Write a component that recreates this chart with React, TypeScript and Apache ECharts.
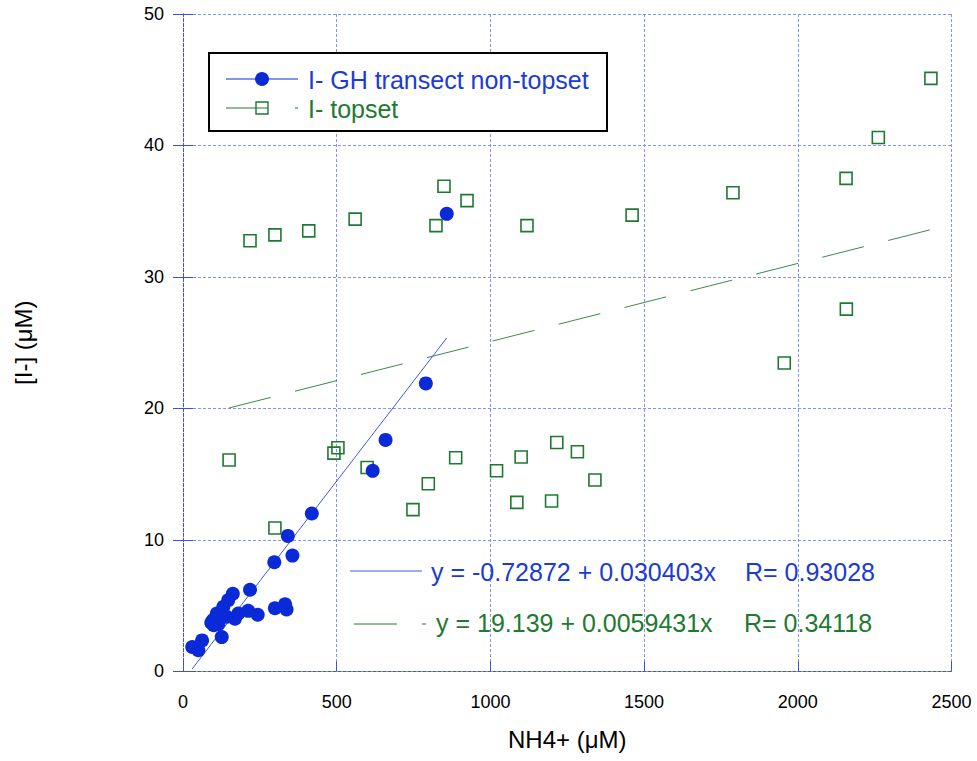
import React, { useEffect, useRef } from "react";
import * as echarts from "echarts";

const nonTopsetNH4 = [30, 50, 62, 126, 98, 115, 110, 131, 142, 147, 169, 180, 100, 92, 120, 162, 218, 212, 243, 299, 332, 337, 297, 356, 341, 419, 617, 659, 790, 858];
const nonTopsetI = [1.85, 1.6, 2.35, 2.6, 3.9, 3.6, 4.4, 4.9, 4.15, 5.4, 4.0, 4.4, 3.5, 3.7, 4.2, 5.9, 6.2, 4.6, 4.3, 4.8, 5.1, 4.7, 8.3, 8.8, 10.3, 12.0, 15.25, 17.6, 21.9, 34.8];

const topsetNH4 = [150, 218, 299, 409, 560, 849, 823, 924, 1119, 1461, 1789, 2157, 2262, 2433, 1956, 2158, 299, 491, 504, 599, 748, 798, 887, 1020, 1100, 1216, 1283, 1340, 1086, 1199];
const topsetI = [16.07, 32.75, 33.2, 33.5, 34.4, 36.9, 33.9, 35.8, 33.9, 34.7, 36.4, 37.5, 40.6, 45.1, 23.45, 27.55, 10.9, 16.6, 17.0, 15.5, 12.3, 14.27, 16.24, 15.25, 16.3, 17.4, 16.7, 14.55, 12.85, 12.95];

// fit coefficients [intercept, slope, R]
const nonTopsetFit = [-0.72872, 0.030403, 0.93028];
const topsetFit = [19.139, 0.0059431, 0.34118];

const xTicks = [0, 500, 1000, 1500, 2000, 2500];
const yTicks = [0, 10, 20, 30, 40, 50];

const seriesNames = ["I- GH transect non-topset", "I- topset"];

const BLUE = "#0a2ad8";
const BLUE_TEXT = "#1b3ad6";
const GREEN = "#1d7a30";
const GRID = "#8593ee";
const AXIS = "#3d52dc";
const FONT = "'Liberation Sans', Arial, Helvetica, sans-serif";

function fitLine(xs: number[], fit: number[]) {
  const lo = Math.min(...xs);
  const hi = Math.max(...xs);
  return [lo, hi].map((x) => [x, fit[0] + fit[1] * x]);
}

export default function App() {
  const ref = useRef<HTMLDivElement>(null);
  useEffect(() => {
    if (!ref.current) return;
    const chart = echarts.init(ref.current, null, { renderer: "svg" });
    const blueData = nonTopsetNH4.map((x, i) => [x, nonTopsetI[i]]);
    const greenData = topsetNH4.map((x, i) => [x, topsetI[i]]);
    const fmtEq = (f: number[]) => `y = ${f[0]} + ${f[1]}x`;
    const axisCommon = {
      type: "value" as const,
      axisLine: { show: true, lineStyle: { color: AXIS, type: [3, 2], width: 1 } },
      axisTick: { show: true, inside: true, length: 10, lineStyle: { color: AXIS, width: 1 } },
      splitLine: { show: true, lineStyle: { color: GRID, type: [3, 2], width: 1 } },
    };
    const txt = (text: string, x: number, y: number, fill: string) => ({
      type: "text",
      x,
      y,
      style: { text, fill, font: `25px ${FONT}`, verticalAlign: "middle" },
      z: 11,
    });
    const seg = (x1: number, y1: number, x2: number, y2: number, stroke: string, lineWidth = 1) => ({
      type: "line",
      shape: { x1, y1, x2, y2 },
      style: { stroke, lineWidth },
      z: 11,
    });
    chart.setOption({
      animation: false,
      backgroundColor: "#fff",
      textStyle: { fontFamily: FONT },
      grid: { left: 183, top: 14, right: 25.5, bottom: 89.7, containLabel: false },
      xAxis: [
        {
          ...axisCommon,
          min: xTicks[0],
          max: xTicks[xTicks.length - 1],
          interval: 500,
          name: "NH4+ (μM)",
          nameLocation: "middle",
          nameGap: 56,
          nameTextStyle: { fontSize: 24, color: "#000", fontFamily: FONT },
          axisLabel: { fontSize: 18, color: "#000", margin: 22, fontFamily: FONT, formatter: (v: number) => String(v) },
        },
        {
          ...axisCommon,
          position: "top",
          min: xTicks[0],
          max: xTicks[xTicks.length - 1],
          interval: 500,
          axisTick: { show: false },
          axisLabel: { show: false },
          splitLine: { show: false },
        },
      ],
      yAxis: [
        {
          ...axisCommon,
          min: yTicks[0],
          max: yTicks[yTicks.length - 1],
          interval: 10,
          name: "[I-] (μM)",
          nameLocation: "middle",
          nameGap: 148,
          nameTextStyle: { fontSize: 24, color: "#000", fontFamily: FONT },
          axisLabel: { fontSize: 18, color: "#000", margin: 19, fontFamily: FONT, formatter: (v: number) => String(v) },
        },
        {
          ...axisCommon,
          position: "right",
          min: yTicks[0],
          max: yTicks[yTicks.length - 1],
          interval: 10,
          axisTick: { show: true, inside: true, length: 10, lineStyle: { color: AXIS } },
          axisLabel: { show: false },
          splitLine: { show: false },
        },
      ],
      series: [
        {
          name: seriesNames[1],
          type: "scatter",
          data: greenData,
          symbol: "rect",
          symbolSize: 12,
          itemStyle: { color: "rgba(255,255,255,0)", borderColor: GREEN, borderWidth: 1.6, opacity: 1 },
          z: 3,
        },
        {
          name: seriesNames[1] + " fit",
          type: "line",
          data: fitLine(topsetNH4, topsetFit),
          symbol: "none",
          lineStyle: { color: "#3a8a4a", width: 1, type: [43, 25] },
          z: 2,
        },
        {
          name: seriesNames[0] + " fit",
          type: "line",
          data: fitLine(nonTopsetNH4, nonTopsetFit),
          symbol: "none",
          lineStyle: { color: "#4058e6", width: 1 },
          z: 4,
        },
        {
          name: seriesNames[0],
          type: "scatter",
          data: blueData,
          symbol: "circle",
          symbolSize: 14,
          itemStyle: { color: BLUE, opacity: 1 },
          z: 5,
        },
      ],
      graphic: [
        {
          type: "rect",
          shape: { x: 209, y: 53, width: 398, height: 78 },
          style: { fill: "#fff", stroke: "#000", lineWidth: 2 },
          z: 10,
        },
        seg(226, 79, 298, 79, BLUE, 1.2),
        { type: "circle", shape: { cx: 262, cy: 79, r: 7 }, style: { fill: BLUE }, z: 11 },
        txt(seriesNames[0], 308, 80, BLUE_TEXT),
        seg(226, 108, 268, 108, GREEN),
        {
          type: "rect",
          shape: { x: 256, y: 102, width: 12, height: 12 },
          style: { fill: "rgba(255,255,255,0)", stroke: GREEN, lineWidth: 1.4 },
          z: 11,
        },
        seg(295, 108, 298, 108, GREEN),
        txt(seriesNames[1], 308, 109, GREEN),
        seg(350, 571, 422, 571, "#4058e6"),
        txt(fmtEq(nonTopsetFit), 431, 572, BLUE_TEXT),
        txt(`R= ${nonTopsetFit[2]}`, 745, 572, BLUE_TEXT),
        seg(354, 624, 397, 624, GREEN),
        seg(422, 624, 426, 624, GREEN),
        txt(fmtEq(topsetFit), 436, 623, GREEN),
        txt(`R= ${topsetFit[2]}`, 744, 623, GREEN),
      ],
    });
    return () => chart.dispose();
  }, []);
  return (
    <div
      ref={ref}
      style={{ width: 977, height: 761, position: "absolute", left: 0, top: 0 }}
    />
  );
}
